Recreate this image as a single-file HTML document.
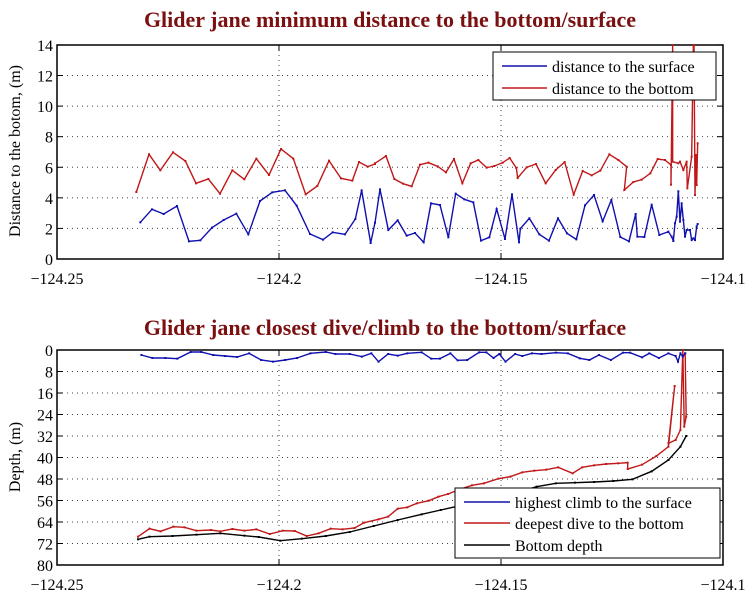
<!DOCTYPE html><html><head><style>body{margin:0;background:#fff}svg{display:block;font-family:"Liberation Serif",serif}</style></head><body>
<svg id="s" width="750" height="591" xmlns="http://www.w3.org/2000/svg">
<text x="390" y="27" text-anchor="middle" font-size="22" font-weight="bold" fill="#7a1010">Glider jane minimum distance to the bottom/surface</text>
<text x="385" y="335" text-anchor="middle" font-size="22" font-weight="bold" fill="#7a1010">Glider jane closest dive/climb to the bottom/surface</text>
<g id="g"></g>
<text transform="translate(20,151) rotate(-90)" text-anchor="middle" font-size="16">Distance to the botom, (m)</text>
<text transform="translate(20,457) rotate(-90)" text-anchor="middle" font-size="16">Depth, (m)</text>
</svg>
<script>
const g=document.getElementById('g');let h='';
const L=57,R=723;
function ax(top,bot,labels,f){
 // grid
 for(const v of [279,501]) h+=`<line x1="${v}" y1="${top}" x2="${v}" y2="${bot}" stroke="#444" stroke-dasharray="1,4"/>`;
 for(const [y,t] of labels){ if(y>top+2&&y<bot-2) h+=`<line x1="${L}" y1="${y}" x2="${R}" y2="${y}" stroke="#444" stroke-dasharray="1,4"/>`;
  h+=`<text x="${L-4}" y="${y+6}" text-anchor="end" font-size="16">${t}</text>`;
  h+=`<line x1="${L}" y1="${y}" x2="${L+6}" y2="${y}" stroke="#000"/><line x1="${R}" y1="${y}" x2="${R-6}" y2="${y}" stroke="#000"/>`;}
 h+=`<rect x="${L}" y="${top}" width="${R-L}" height="${bot-top}" fill="none" stroke="#000" stroke-width="1.5"/>`;
 const xl=[[57,'−124.25'],[279,'−124.2'],[501,'−124.15'],[723,'−124.1']];
 for(const [x,t] of xl){h+=`<text x="${x}" y="${bot+25}" text-anchor="middle" font-size="16">${t}</text>`;
  h+=`<line x1="${x}" y1="${top}" x2="${x}" y2="${top+6}" stroke="#000"/><line x1="${x}" y1="${bot}" x2="${x}" y2="${bot-6}" stroke="#000"/>`;}
}
ax(45,259,[0,2,4,6,8,10,12,14].map(v=>[259-v*15.29,v]));
ax(350,565,[0,8,16,24,32,40,48,56,64,72,80].map(v=>[350+v*2.6875,v]));
function line(pts,c){h+=`<polyline points="${pts.map(p=>p.join(',')).join(' ')}" fill="none" stroke="${c}" stroke-width="1.4"/>`;
 for(const p of pts)h+=`<rect x="${p[0]-1}" y="${p[1]-1}" width="2" height="2" fill="${c}"/>`;}
const Z1=a=>a.map(([x,y])=>[x/3,y/3+30]), Z2=a=>a.map(([x,y])=>[x/3+375,y/3+30]);
const tb=Z1([[421,577],[456,538],[491,552],[531,528],[567,634],[601,631],[636,593],[671,570],[709,551],[745,613],[780,513],[817,487],[855,481],[890,527],[930,612],[969,629],[998,607],[1035,613],[1066,567],[1085,481],[1112,639]]).concat(Z2([[0,578],[15,478],[40,600],[68,571],[95,617],[120,609],[146,637],[168,520],[195,525],[220,622],[242,491],[268,508],[295,517],[318,632],[343,622],[365,537],[390,627],[411,493],[432,637],[436,596],[463,565],[493,613],[522,632],[549,565],[576,610],[604,628],[630,526],[657,495],[683,574],[709,510],[736,621],[762,634],[782,552],[787,620],[808,621],[830,524],[853,615],[880,605],[890,620],[895,633],[900,580],[905,560],[910,484],[915,575],[920,520],[925,570],[930,620],[935,600],[945,600],[950,630],[955,625],[960,630],[965,590],[968,582]]));
const tr=Z1([[409,486],[447,373],[481,421],[519,367],[556,393],[588,460],[625,447],[660,491],[697,421],[733,448],[769,386],[807,435],[843,357],[880,386],[917,493],[952,468],[987,392],[1023,445],[1057,452],[1077,396],[1103,410],[1125,402]]).concat(Z2([[0,400],[33,378],[58,447],[84,461],[110,469],[135,404],[160,398],[188,409],[213,427],[237,387],[262,460],[287,400],[310,390],[335,413],[358,408],[383,398],[404,384],[424,414],[428,444],[455,412],[483,402],[512,460],[542,420],[569,396],[596,494],[623,423],[650,436],[676,422],[703,373],[730,390],[755,410],[748,480],[775,456],[800,449],[826,430],[848,387],[870,390],[888,405],[888,464],[893,45],[893,395],[910,400],[915,395],[925,420],[935,395],[937,475],[950,380],[955,45],[957,45],[960,495],[963,375],[965,465],[968,340]]));
line(tb,'#1010b0');line(tr,'#c01818');
const Z3=a=>a.map(([x,y])=>[x/2.087,y/3+330]);
const bk=Z3([[288,628],[312,620],[360,618],[410,614],[460,610],[510,617],[540,621],[585,632],[630,626],[680,618],[730,606],[780,588],[830,570],[880,553],[920,540],[960,527],[1000,513],[1040,498],[1080,487],[1120,470],[1160,460],[1200,458],[1240,456],[1280,453],[1320,448],[1360,424],[1395,390],[1420,350],[1432,318]]);
const br=Z3([[288,620],[312,596],[335,604],[362,590],[385,592],[410,602],[440,600],[460,604],[485,597],[510,602],[535,598],[563,612],[590,602],[615,603],[640,618],[665,610],[690,596],[715,598],[740,594],[760,578],[790,568],[810,560],[830,536],[850,532],[870,520],[895,512],[915,500],[935,492],[960,478],[985,466],[1010,460],[1040,446],[1065,440],[1090,427],[1115,422],[1140,419],[1165,412],[1195,430],[1215,412],[1240,406],[1265,402],[1290,400],[1310,398],[1310,417],[1340,404],[1370,378],[1395,350],[1408,168],[1395,340],[1410,330],[1420,300],[1425,60],[1428,290],[1432,260],[1430,70]]);
const bb=Z3([[295,75],[318,84],[345,84],[370,86],[398,66],[420,66],[445,75],[470,78],[495,81],[520,70],[545,90],[570,95],[595,90],[620,84],[648,70],[680,66],[700,72],[730,72],[755,80],[775,70],[790,95],[810,72],[830,77],[850,70],[880,67],[900,86],[918,86],[940,70],[955,91],[975,90],[1000,67],[1015,67],[1030,84],[1042,72],[1055,95],[1075,72],[1090,78],[1110,70],[1130,72],[1160,68],[1185,70],[1210,85],[1230,90],[1250,75],[1275,90],[1300,68],[1315,68],[1340,82],[1355,70],[1375,84],[1395,70],[1410,78],[1415,95],[1420,70],[1425,80],[1430,70]]);
line(bk,'#000');line(br,'#c01818');line(bb,'#1010b0');
// legends
h+=`<rect x="493" y="52" width="223" height="48" fill="#fff" stroke="#000"/>`;
h+=`<line x1="502" y1="66" x2="547" y2="66" stroke="#1010b0" stroke-width="1.4"/><text x="552" y="72" font-size="16">distance to the surface</text>`;
h+=`<line x1="502" y1="88" x2="547" y2="88" stroke="#c01818" stroke-width="1.4"/><text x="552" y="94" font-size="16">deepest to the bottom</text>`.replace('deepest','distance');
h+=`<rect x="455" y="488" width="265" height="70" fill="#fff" stroke="#000"/>`;
[['#1010b0','highest climb to the surface',502],['#c01818','deepest dive to the bottom',523],['#000','Bottom depth',545]].forEach(([c,t,y])=>{
 h+=`<line x1="464" y1="${y}" x2="510" y2="${y}" stroke="${c}" stroke-width="1.4"/><text x="515" y="${y+6}" font-size="16">${t}</text>`;});
g.innerHTML=h;
</script>
</body></html>
